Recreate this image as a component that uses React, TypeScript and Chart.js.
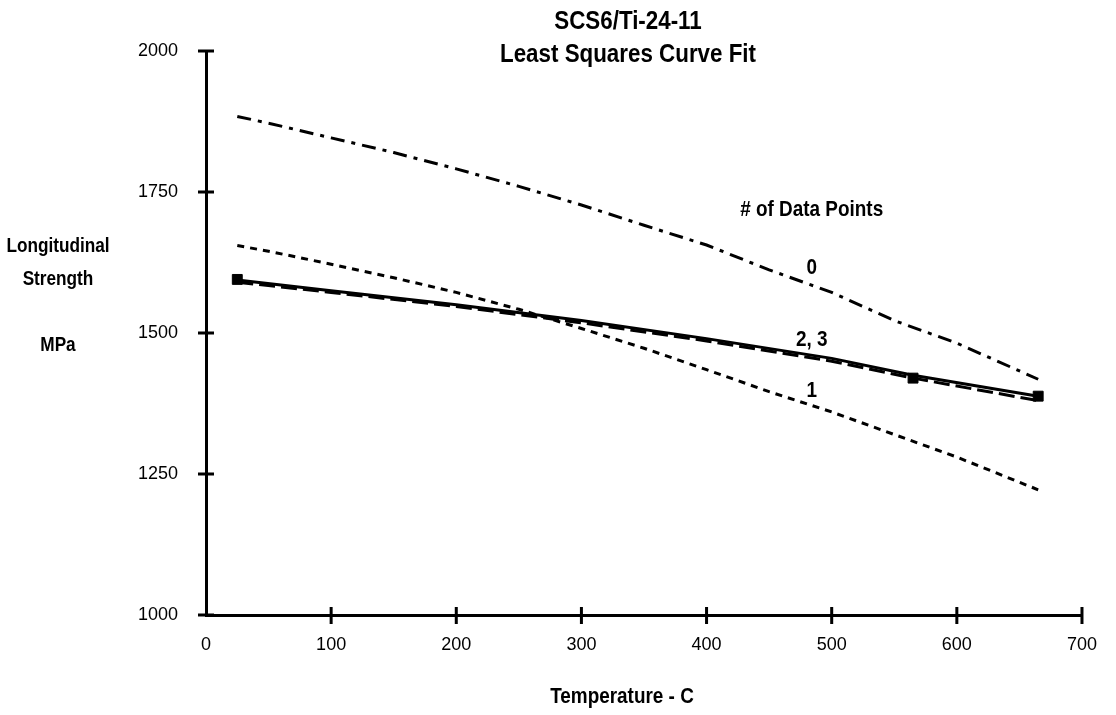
import React, { useEffect, useRef } from "react";
import { Chart, registerables } from "chart.js";

Chart.register(...registerables);

const titleLines = ["SCS6/Ti-24-11", "Least Squares Curve Fit"];
const yTitleLines = ["Longitudinal", "Strength", "", "MPa"];
const xTitle = "Temperature - C";
const legendTitle = "# of Data Points";

// Curve for 0 data points (dash-dot)
const fit0X = [25, 50, 100, 150, 200, 250, 300, 350, 400, 450, 500, 550, 600, 665];
const fit0Y = [1884, 1872, 1846, 1820, 1791, 1760, 1727, 1691, 1656, 1612, 1572, 1522, 1482, 1418];

// Curve for 1 data point (short dashes)
const fit1X = [25, 50, 100, 150, 200, 250, 300, 350, 400, 450, 500, 550, 600, 665];
const fit1Y = [1655, 1645, 1622, 1598, 1572, 1542, 1508, 1473, 1435, 1396, 1360, 1320, 1280, 1222];

// Curve for 2 data points (long dashes)
const fit2X = [25, 100, 200, 300, 400, 500, 565, 665];
const fit2Y = [1590, 1572, 1547, 1518, 1486, 1450, 1420, 1380];

// Curve for 3 data points (solid)
const fit3X = [25, 100, 200, 300, 400, 500, 565, 665];
const fit3Y = [1594, 1575, 1550, 1522, 1490, 1455, 1425, 1388];

// Measured data points (squares)
const dataX = [25, 565, 665];
const dataY = [1595, 1420, 1388];

// Curve labels (data coordinates)
const curveLabels = ["0", "2, 3", "1"];
const curveLabelX = [484, 484, 484];
const curveLabelY = [1615, 1487, 1398];
const legendTitleX = 484;
const legendTitleY = 1718;

const xTicks = [0, 100, 200, 300, 400, 500, 600, 700];
const yTicks = [1000, 1250, 1500, 1750, 2000];

const pts = (xs: number[], ys: number[]) => xs.map((x, i) => ({ x, y: ys[i] }));

const FAMILY = "'Liberation Sans', Arial, sans-serif";

function narrowText(ctx: any, text: string, x: number, y: number, size: number, sx = 0.86) {
  ctx.save();
  ctx.font = `bold ${size}px ${FAMILY}`;
  ctx.translate(x, y);
  ctx.scale(sx, 1);
  ctx.textAlign = "center";
  ctx.textBaseline = "middle";
  ctx.fillText(text, 0, 0);
  ctx.restore();
}

export default function App() {
  const ref = useRef<HTMLCanvasElement | null>(null);

  useEffect(() => {
    document.body.style.margin = "0";
    document.body.style.background = "#fff";
    const canvas = ref.current;
    if (!canvas) return;

    const textPlugin = {
      id: "textPlugin",
      beforeDraw(chart: any) {
        const { ctx } = chart;
        ctx.save();
        ctx.fillStyle = "#fff";
        ctx.fillRect(0, 0, chart.width, chart.height);
        ctx.restore();
      },
      afterDraw(chart: any) {
        const { ctx, scales } = chart;
        const xs = scales.x;
        const ys = scales.y;
        ctx.save();
        ctx.fillStyle = "#000";
        ctx.strokeStyle = "#000";
        // Title
        narrowText(ctx, titleLines[0], 628, 22, 26);
        narrowText(ctx, titleLines[1], 628, 55, 26);
        // Y title
        yTitleLines.forEach((t, i) => {
          if (t) narrowText(ctx, t, 58, 246 + i * 33, 20);
        });
        // X title
        narrowText(ctx, xTitle, 622, 697, 22);
        // Legend title and curve labels
        narrowText(ctx, legendTitle, xs.getPixelForValue(legendTitleX), ys.getPixelForValue(legendTitleY), 22);
        curveLabels.forEach((t, i) => {
          narrowText(ctx, t, xs.getPixelForValue(curveLabelX[i]), ys.getPixelForValue(curveLabelY[i]), 22);
        });
        // Tick marks crossing the axes
        ctx.lineWidth = 3;
        const x0 = chart.chartArea.left;
        const yb = chart.chartArea.bottom;
        ctx.beginPath();
        yTicks.forEach((v) => {
          const py = ys.getPixelForValue(v);
          ctx.moveTo(x0 - 8, py);
          ctx.lineTo(x0 + 8, py);
        });
        xTicks.forEach((v) => {
          const px = xs.getPixelForValue(v);
          if (v === 0) return;
          ctx.moveTo(px, yb - 8);
          ctx.lineTo(px, yb + 9);
        });
        ctx.stroke();
        ctx.restore();
      },
    };

    const chart = new Chart(canvas, {
      type: "scatter",
      data: {
        datasets: [
          {
            label: "0",
            data: pts(fit0X, fit0Y),
            showLine: true,
            borderColor: "#000",
            borderWidth: 3,
            borderDash: [14, 7, 4, 7],
            pointRadius: 0,
            tension: 0,
          },
          {
            label: "1",
            data: pts(fit1X, fit1Y),
            showLine: true,
            borderColor: "#000",
            borderWidth: 3,
            borderDash: [7, 6],
            pointRadius: 0,
            tension: 0,
          },
          {
            label: "2",
            data: pts(fit2X, fit2Y),
            showLine: true,
            borderColor: "#000",
            borderWidth: 3,
            borderDash: [16, 6],
            pointRadius: 0,
            tension: 0,
          },
          {
            label: "3",
            data: pts(fit3X, fit3Y),
            showLine: true,
            borderColor: "#000",
            borderWidth: 3,
            pointRadius: 0,
            tension: 0,
          },
          {
            label: "data",
            data: pts(dataX, dataY),
            showLine: false,
            pointStyle: "rect",
            pointRadius: 7,
            backgroundColor: "#000",
            borderColor: "#000",
          },
        ],
      },
      options: {
        responsive: false,
        animation: false,
        maintainAspectRatio: false,
        layout: { padding: { top: 51, right: 18, left: 0, bottom: 0 } },
        plugins: {
          legend: { display: false },
          title: { display: false },
          tooltip: { enabled: false },
        },
        scales: {
          x: {
            type: "linear",
            min: 0,
            max: 700,
            afterBuildTicks: (s: any) => {
              s.ticks = xTicks.map((v) => ({ value: v }));
            },
            afterFit: (s: any) => {
              s.height = 100;
            },
            grid: { display: false, drawTicks: false },
            border: { display: true, color: "#000", width: 3 },
            ticks: {
              color: "#000",
              font: { family: FAMILY, size: 18 },
              padding: 19,
              maxRotation: 0,
              callback: (v: any) => String(v),
            },
          },
          y: {
            type: "linear",
            min: 1000,
            max: 2000,
            afterBuildTicks: (s: any) => {
              s.ticks = yTicks.map((v) => ({ value: v }));
            },
            afterFit: (s: any) => {
              s.width = 206;
            },
            grid: { display: false, drawTicks: false },
            border: { display: true, color: "#000", width: 3 },
            ticks: {
              color: "#000",
              font: { family: FAMILY, size: 18 },
              padding: 28,
              callback: (v: any) => String(v),
            },
          },
        },
      },
      plugins: [textPlugin],
    });

    return () => chart.destroy();
  }, []);

  return (
    <div style={{ width: 1116, height: 715 }}>
      <canvas ref={ref} width={1116} height={715} style={{ display: "block" }} />
    </div>
  );
}
